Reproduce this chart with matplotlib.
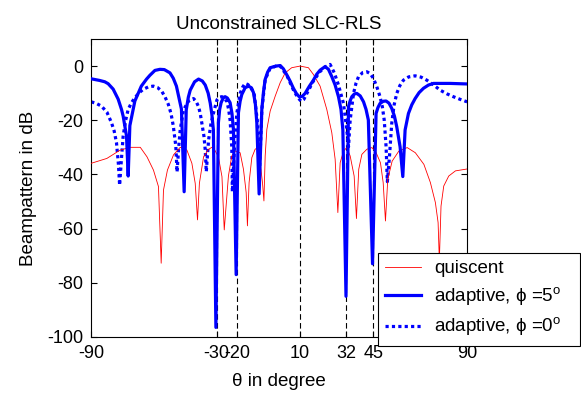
import matplotlib
matplotlib.use("Agg")
import matplotlib.pyplot as plt

# quiescent beampattern (red)
theta_q = [-90, -82.5, -76.1, -71.3, -66.5, -63.3, -60.2, -57.8, -56.5, -55.4,
           -53.5, -50.6, -47.4, -44.2, -41.8, -40.2, -39.1, -38.2, -36.2, -33.8,
           -31.7, -29.1, -27.4, -26.3, -24.3, -22.7, -21.1, -18.7, -17.1, -15.8,
           -15.2, -14.4, -13.1, -11.5, -10.2, -9.1, -8, -7.3, -6.7, -5.9,
           -4.3, -1.9, 0.5, 2.9, 6, 10, 14, 16.4, 19.6, 22.8,
           25.2, 26.8, 28.1, 29.2, 30.8, 32.4, 34, 35.9, 37, 38.1,
           39.6, 42, 44.4, 46.1, 48.5, 49.8, 50.9, 52, 54.1, 57.3,
           61.3, 65.2, 69.3, 72.4, 74.8, 76.1, 76.7, 77.5, 78.8, 81.2,
           84.4, 89.2, 90]
gain_q = [-35.9, -34.1, -31, -30, -30, -33.5, -38.4, -44.5, -72.8, -45.8,
          -38.4, -32.8, -30, -31, -35.9, -43.3, -56.8, -43.3, -33.5, -30.7,
          -29.8, -33.5, -40.8, -60.5, -40.6, -33.2, -31.4, -32, -38.1, -46.7,
          -59, -43, -33.8, -30.7, -30.1, -35.7, -43, -49.8, -33.2, -23.4,
          -16.6, -11.1, -6.1, -2.5, -0.6, 0, -0.6, -3.1, -7.4, -16,
          -24.6, -34.4, -54.1, -35.7, -31.4, -30.1, -33.2, -40.6, -56.3, -38.1,
          -32.6, -30.7, -30.1, -31.4, -35.7, -43, -57.2, -41.8, -35.1, -31.4,
          -30.1, -32, -36.3, -43, -50.4, -57.8, -72, -51.7, -44.3, -40.6,
          -38.7, -38.1, -38]

# adaptive, phi = 5 deg (solid blue)
theta_5 = [-90, -86, -83.5, -81.9, -79.5, -77.1, -75.5, -74.7, -73.1, -72.3,
           -71.5, -69.1, -66, -63.5, -61.9, -59.5, -57.1, -55, -52.3, -50.7,
           -49.2, -46.8, -45.5,
           -44.5, -43.5, -42.6, -40.5, -38.6, -36.8, -35.4, -34, -33, -32.2, -31.5, -30.3,
           -29.1, -28.5, -27.8, -26.8, -25.9, -24.8, -23.5, -22.6, -21.9, -20.6,
           -19.5, -18.7, -17.9, -16.3, -14.7, -13.3, -12.3, -11.4, -10.7, -9.6,
           -8.3, -7.5, -6.7, -5.5, -4.3, -1.5, 0.5, 2, 3.7, 5.2,
           6.8, 8.3, 9.6, 11, 12.4, 14.4, 16.4, 18, 19.6, 22,
           23.6, 25.2, 26.8, 28.4, 29.6, 30.5, 32,
           33.2, 34, 34.8, 36, 37.2, 38.8, 40.4, 41.6, 42.7, 44.7,
           46.4, 47.3, 48.3, 49.8, 51.2, 52.6, 53.9, 55.2, 56.3, 57.9, 59.2,
           60.3, 61.9, 63.5, 65.1, 67, 69.1, 71.5, 73.9, 81.9, 90]
gain_5 = [-4.7, -5.3, -5.8, -6.5, -8.5, -12.2, -16, -18.5, -25.8, -40.6,
          -22, -12.9, -7.4, -4.8, -3.4, -1.6, -1.2, -1.3, -2.5, -4.5,
          -7.4, -15.9, -46.4,
          -16.2, -11.5, -8.9, -5.8, -4.8, -5.5, -7, -10, -13.7, -18, -23.6, -96.5,
          -20.9, -16, -13.5, -11.8, -11.3, -11.8, -13.5, -17.5, -23.4, -77,
          -17.2, -13, -10.5, -8, -7.4, -8, -9.8, -14, -20.9, -47.2,
          -15.9, -9.5, -4.9, -2.2, -0.6, 0, 0.2, -1, -3.3, -5.5,
          -8.2, -10.2, -11.3, -11.2, -10.1, -7.5, -5.2, -3, -1.5, -0.2,
          -1.2, -3.9, -7, -11.3, -16, -23.6, -85,
          -15, -12.8, -11.3, -10.3, -10.1, -11, -13.2, -16, -19.9, -73,
          -17.5, -15.3, -13.8, -13, -12.9, -13.7, -15.6, -18.5, -22.4, -29.8, -40.8,
          -23.6, -17.5, -14.3, -12, -9.8, -8.2, -7, -6.4, -6.4, -6.6]

# adaptive, phi = 0 deg (dotted blue)
theta_0 = [-90, -87.5, -85.1, -82.5, -80.3, -79, -77.9, -77, -76.4, -75.5,
           -74.7, -73.5, -72.3, -70.7, -69.1, -67, -65.1, -62.7, -60.3, -58.3,
           -56.3, -54.7, -53.1, -51.8, -50.7, -49.5, -48.9, -48.1, -47.4, -45.8,
           -43.5, -41, -39.8, -38.6, -37.8, -37, -36, -35.4, -34.9, -33.8,
           -32.7, -31.5, -29.8, -28.6, -27.4, -26.2, -25, -24.2, -23.5, -22.7,
           -22.4, -21.4, -20.3, -18.7, -17.5, -16.3, -15, -14, -12, -10.5,
           -9.5, -8.3, -6.7, -4.3, -1.5, 0.5, 3.7, 6.8, 8.8, 10.5,
           11.8, 13, 16.4, 19.6, 22, 24.4, 26.4, 28.4, 30.8, 32.4,
           33.2, 34, 35.6, 36.8, 38, 40, 42, 43.6, 45.1, 46.7,
           48.3, 49.4, 50.3, 51.2, 51.8, 52.8, 53.9, 55, 56.3, 57.8,
           59.5, 62, 65.1, 68, 70.7, 74, 77.1, 80.2, 83.4, 86.7, 90]
gain_0 = [-13.2, -13.8, -14.8, -17, -20.9, -24, -28.3, -36, -44, -34,
          -25.8, -20, -16, -13.5, -11.7, -9.8, -8.6, -7.7, -7.4, -7.9,
          -9.2, -11.3, -14.1, -17.5, -22.1, -29.5, -39.1, -30, -23.6, -16.2,
          -13, -12, -13, -15, -17.5, -21.2, -26, -31, -39, -27.3,
          -21.5, -17.5, -12.5, -11.5, -11.3, -11.8, -13.2, -16, -19.9, -29.8,
          -46.4, -29.8, -17.5, -10.1, -7.8, -6.4, -6.8, -7.5, -10, -20,
          -40, -16, -5, -0.8, 0, 0, -3.5, -8.8, -11.5, -13,
          -12.3, -10.5, -5.5, -2, -0.3, 0.6, -2.5, -7, -13.8, -23.6,
          -29.8, -19.9, -10.1, -6.3, -3.9, -2.4, -2.1, -2.8, -4.5, -7.5,
          -11.3, -15, -19.9, -29.8, -42.7, -33.5, -21.2, -14.5, -10.1, -7.2,
          -5.2, -4, -3.6, -4.1, -5.2, -7, -8.9, -10.2, -11.3, -12.3, -13.2]

jammer_angles = [-30, -20, 10, 32, 45]
x_ticks = [-90, -30, -20, 10, 32, 45, 90]
y_ticks = [-100, -80, -60, -40, -20, 0]

plt.rcParams["font.family"] = ["Liberation Sans", "DejaVu Sans"]
plt.rcParams["mathtext.fontset"] = "custom"
plt.rcParams["mathtext.rm"] = "Liberation Sans"
plt.rcParams["axes.unicode_minus"] = False

fig = plt.figure(figsize=(5.81, 3.94), dpi=100)
ax = fig.add_axes([0.157, 0.145, 0.647, 0.756])

for a in jammer_angles:
    ax.axvline(a, color="black", lw=0.8, ls=(0, (5, 3)), zorder=1)

ax.plot(theta_q, gain_q, color="red", lw=0.6, label="quiscent", zorder=3)
ax.plot(theta_5, gain_5, color="blue", lw=2.3,
        label="adaptive, \u03d5 =5$^{\\rm o}$", zorder=4)
ax.plot(theta_0, gain_0, color="blue", lw=2.3, ls=(0, (1, 1)),
        label="adaptive, \u03d5 =0$^{\\rm o}$", zorder=2)

ax.set_xlim(-90, 90)
ax.set_ylim(-100, 10)
ax.set_xticks(x_ticks)
ax.set_yticks(y_ticks)
ax.tick_params(direction="in", top=True, right=True, labelsize=13, length=4, pad=6)
ax.set_title("Unconstrained SLC-RLS", fontsize=13.5, pad=7)
ax.set_xlabel("\u03b8 in degree", fontsize=13.5, labelpad=8)
ax.set_ylabel("Beampattern in dB", fontsize=13.5, labelpad=7)

leg = ax.legend(loc="lower left", bbox_to_anchor=(0.65, 0.122, 0.348, 0.233),
                bbox_transform=fig.transFigure, mode="expand", fontsize=13.5,
                fancybox=False, framealpha=1, edgecolor="black",
                handlelength=1.9, handletextpad=0.7, labelspacing=0.42,
                borderaxespad=0)
leg.get_frame().set_linewidth(0.8)

fig.savefig("out.png", dpi=100)
